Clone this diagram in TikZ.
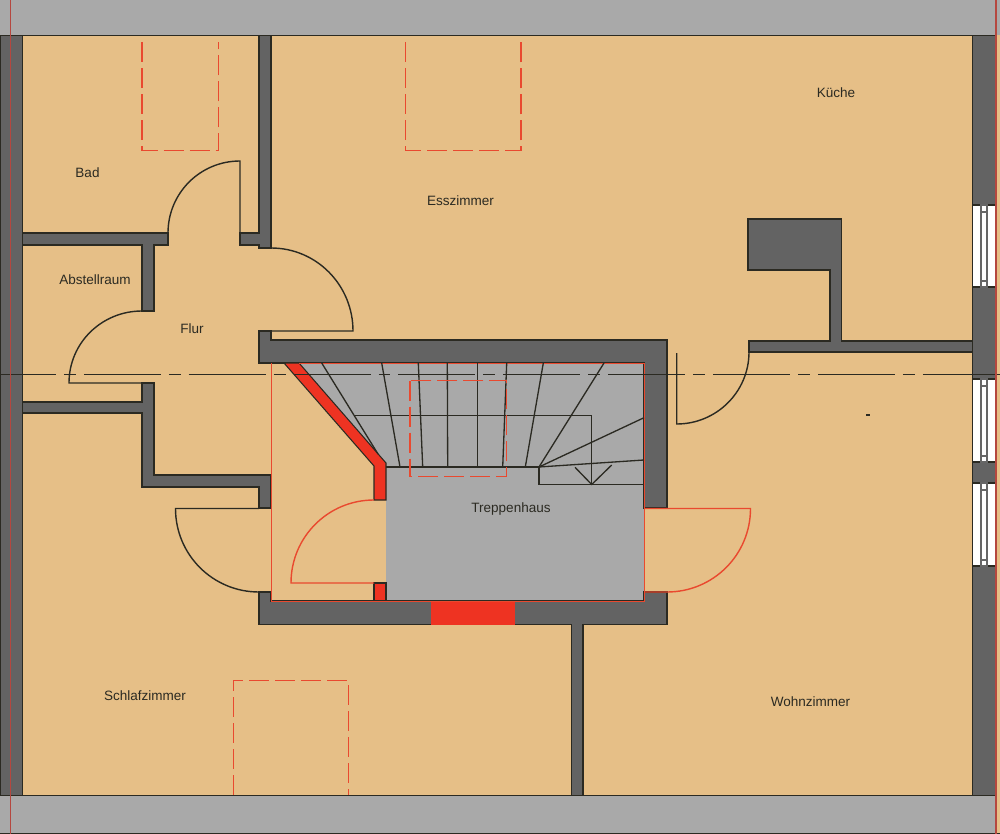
\documentclass[tikz,border=0pt]{standalone}
\usepackage{fontspec}
\setmainfont{Liberation Sans}
\definecolor{roomcol}{HTML}{E6BF87}
\definecolor{bandcol}{HTML}{A9A9A9}
\definecolor{wallcol}{HTML}{636363}
\definecolor{newcol}{HTML}{EE3322}
\definecolor{thincol}{HTML}{E9492F}
\definecolor{axiscol}{HTML}{B5473F}
\definecolor{edgecol}{HTML}{2B2A22}
\tikzset{
	wall/.style={fill=wallcol,draw=edgecol,line width=0.8pt,line join=miter},
	redwall/.style={fill=newcol,draw=edgecol,line width=0.6pt},
	doorline/.style={draw=edgecol,line width=0.8pt},
	newdoor/.style={draw=thincol,line width=0.8pt},
	thinred/.style={draw=thincol,line width=0.55pt},
	skylight/.style={draw=thincol,line width=0.9pt,dash pattern=on 11.4pt off 3.4pt},
	stepline/.style={draw=edgecol,line width=0.75pt},
	glass/.style={fill=white,draw=edgecol,line width=0.6pt},
	pane/.style={draw=gray!80!black,line width=0.8pt},
	roomlabel/.style={inner sep=0pt,text=edgecol,font=\fontsize{7.7}{9}\selectfont}
}
\begin{document}
\begin{tikzpicture}[x=0.02cm,y=-0.02cm]
	\useasboundingbox (0,0) rectangle (1000,834);
	\fill[roomcol] (0,0) rectangle (1000,834);
	% roof bands
	\fill[bandcol] (0,0) rectangle (1000,35.5);
	\fill[bandcol] (0,795.5) rectangle (996,834);
	\draw[doorline] (0,35.5) -- (996,35.5);
	\draw[doorline] (0,795.5) -- (996,795.5);
	\draw[doorline] (0,833.5) -- (1000,833.5);
	% stair hall
	\fill[bandcol] (299,363) -- (644,363) -- (644,601) -- (386,601) -- (386,463) -- cycle;
	% outer walls
	\draw[wall] (0,35.5) rectangle (22.5,795.5);
	\draw[wall] (972.5,35.5) rectangle (996,795.5);
	% windows
	\draw[glass] (972.5,205) rectangle (996,287);
	\draw[glass] (972.5,379) rectangle (996,462);
	\draw[glass] (972.5,483) rectangle (996,566);
	\draw[pane] (981,205) -- (981,287) (987,205) -- (987,287);
	\draw[pane] (981,379) -- (981,462) (987,379) -- (987,462);
	\draw[pane] (981,483) -- (981,566) (987,483) -- (987,566);
	\draw[pane] (981,205) rectangle (987,212) (981,281) rectangle (987,287);
	\draw[pane] (981,379) rectangle (987,386) (981,456) rectangle (987,462);
	\draw[pane] (981,483) rectangle (987,490) (981,560) rectangle (987,566);
	% inner walls
	\draw[wall] (259,35.5) -- (271,35.5) -- (271,248) -- (259,248) -- (259,245) -- (240,245) -- (240,233) -- (259,233) -- cycle;
	\draw[wall] (22.5,233) -- (168,233) -- (168,245) -- (154,245) -- (154,311) -- (142,311) -- (142,245) -- (22.5,245) -- cycle;
	\draw[wall] (142,383) -- (154,383) -- (154,475) -- (271,475) -- (271,508) -- (259,508) -- (259,487) -- (142,487) -- (142,413) -- (22.5,413) -- (22.5,402) -- (142,402) -- cycle;
	\draw[wall] (259,331) -- (271,331) -- (271,340) -- (667,340) -- (667,508) -- (644,508) -- (644,363) -- (259,363) -- cycle;
	\draw[wall] (259,592) -- (271,592) -- (271,601) -- (644,601) -- (644,592) -- (667,592) -- (667,624.5) -- (583,624.5) -- (583,795.5) -- (571.5,795.5) -- (571.5,624.5) -- (259,624.5) -- cycle;
	\draw[wall] (748,219) -- (841.5,219) -- (841.5,341) -- (972.5,341) -- (972.5,352) -- (749,352) -- (749,341) -- (830,341) -- (830,270) -- (748,270) -- cycle;
	% new walls
	\draw[redwall] (284,363) -- (299,363) -- (386,463) -- (386,500) -- (374,500) -- (374,466) -- cycle;
	\draw[redwall] (374,583) rectangle (386,601);
	\fill[newcol] (431,601) rectangle (515,625);
	% stair hall outline
	\draw[thinred] (271,363) -- (271,601) -- (644,601) -- (644,363);
	\draw[thinred] (299,363) -- (644,363);
	% steps
	\draw[stepline] (386,467) -- (539,467);
	\draw[stepline] (321.7,363) -- (378,454);
	\draw[stepline] (381.7,363) -- (400,467);
	\draw[stepline] (418.3,363) -- (422.7,467);
	\draw[stepline] (447.3,363) -- (447.7,467);
	\draw[stepline] (477.7,363) -- (477.7,467);
	\draw[stepline] (506.7,363) -- (502.7,467);
	\draw[stepline] (543.3,363) -- (525.3,467);
	\draw[stepline] (604,363) -- (539,467);
	\draw[stepline] (644,417.7) -- (539,467);
	\draw[stepline] (644,460) -- (539,467);
	\draw[stepline] (539,467) -- (539,484.5) -- (644,484.5);
	\draw[stepline] (354.3,415.3) -- (591.7,415.3) -- (591.7,484.5);
	\draw[stepline] (575,467.3) -- (591.7,484.5) -- (611.7,465);
	% doors
	\draw[doorline] (168,245) -- (168,233) to[out=90,in=180] (240,161) -- (240,233);
	\draw[doorline] (259,248) -- (271,248) to[out=0,in=90] (353,331) -- (271,331);
	\draw[doorline] (142,311) to[out=180,in=90] (69,383) -- (142,383);
	\draw[doorline] (259,508.5) -- (175.5,508.5) to[out=-90,in=180] (259,592);
	\draw[doorline] (676.7,353) -- (676.7,424) to[out=0,in=-90] (749,352);
	\draw[newdoor] (374,500) to[out=180,in=90] (291,583) -- (374,583);
	\draw[newdoor] (644,508.5) -- (750.5,508.5) to[out=-90,in=0] (667,592) -- (644,592);
	% skylights
	\draw[skylight] (142,42) -- (142,150.5) -- (218.5,150.5) -- (218.5,42);
	\draw[skylight] (405.5,42) -- (405.5,150.5) -- (521,150.5) -- (521,42);
	\draw[skylight] (410,380.7) rectangle (506.7,476.7);
	\draw[skylight] (233.3,795) -- (233.3,680.7) -- (348.3,680.7) -- (348.3,795);
	% section line
	\draw[draw=edgecol,line width=0.65pt,dash pattern=on 43.8pt off 4.55pt on 6.8pt off 4.55pt,dash phase=12pt] (0,374.5) -- (1000,374.5);
	\draw[doorline] (866,415) -- (870,415);
	% axis lines
	\draw[draw=axiscol,line width=0.7pt] (10.5,0) -- (10.5,834);
	\draw[draw=axiscol,line width=0.7pt] (996,0) -- (996,834);
	% room names
	\node[roomlabel] (bad) at (87.5,172.5) {Bad};
	\node[roomlabel] (abstell) at (95,280) {Abstellraum};
	\node[roomlabel] (flur) at (192,328.5) {Flur};
	\node[roomlabel] (ess) at (460.5,200.5) {Esszimmer};
	\node[roomlabel] (kueche) at (836,93) {Küche};
	\node[roomlabel] (treppe) at (511,508.5) {Treppenhaus};
	\node[roomlabel] (schlaf) at (145,695.5) {Schlafzimmer};
	\node[roomlabel] (wohn) at (810.5,702) {Wohnzimmer};
\end{tikzpicture}
\end{document}
